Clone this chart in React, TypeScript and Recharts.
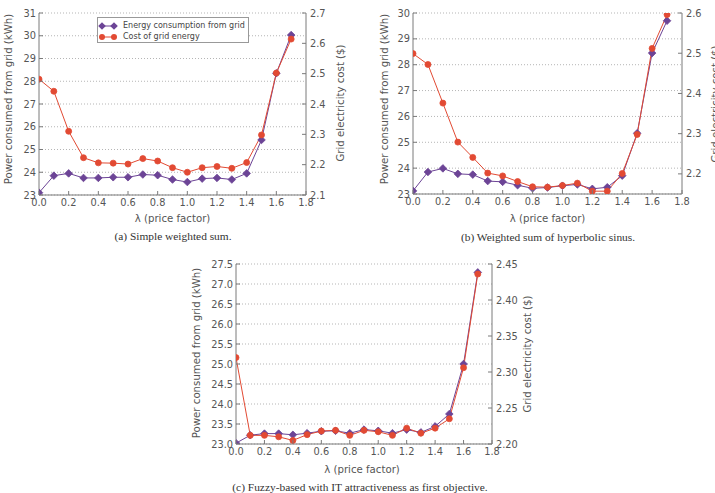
import React from "react";
import { CartesianGrid, Legend, Line, LineChart, XAxis, YAxis } from "recharts";

// λ values shared by all three panels
const lambdaValues = [0, 0.1, 0.2, 0.3, 0.4, 0.5, 0.6, 0.7, 0.8, 0.9, 1.0, 1.1, 1.2, 1.3, 1.4, 1.5, 1.6, 1.7];
const xTicks = [0, 0.2, 0.4, 0.6, 0.8, 1.0, 1.2, 1.4, 1.6, 1.8];

// (a) simple weighted sum
const energyA = [23.1, 23.85, 23.95, 23.75, 23.75, 23.78, 23.78, 23.9, 23.87, 23.68, 23.57, 23.72, 23.75, 23.68, 23.95, 25.42, 28.35, 30.03];
const costA = [2.482, 2.442, 2.31, 2.223, 2.206, 2.205, 2.202, 2.22, 2.212, 2.19, 2.175, 2.19, 2.194, 2.188, 2.207, 2.298, 2.502, 2.614];
const leftTicksA = [23, 24, 25, 26, 27, 28, 29, 30, 31];
const rightTicksA = [2.1, 2.2, 2.3, 2.4, 2.5, 2.6, 2.7];

// (b) weighted sum of hyperbolic sinus
const energyB = [23.12, 23.85, 23.99, 23.78, 23.75, 23.5, 23.47, 23.34, 23.22, 23.25, 23.32, 23.37, 23.2, 23.26, 23.71, 25.35, 28.45, 29.7];
const costB = [2.499, 2.472, 2.376, 2.279, 2.241, 2.202, 2.195, 2.181, 2.168, 2.167, 2.171, 2.177, 2.157, 2.157, 2.201, 2.298, 2.512, 2.596];
const leftTicksB = [23, 24, 25, 26, 27, 28, 29, 30];
const rightTicksB = [2.2, 2.3, 2.4, 2.5, 2.6];

// (c) fuzzy-based, IT attractiveness first
const energyC = [23.02, 23.22, 23.26, 23.26, 23.23, 23.27, 23.32, 23.33, 23.27, 23.36, 23.33, 23.27, 23.36, 23.29, 23.44, 23.75, 25.0, 27.29];
const costC = [2.32, 2.212, 2.212, 2.21, 2.205, 2.213, 2.218, 2.219, 2.212, 2.219, 2.217, 2.212, 2.222, 2.215, 2.222, 2.235, 2.306, 2.436];
const leftTicksC = [23.0, 23.5, 24.0, 24.5, 25.0, 25.5, 26.0, 26.5, 27.0, 27.5];
const rightTicksC = [2.2, 2.25, 2.3, 2.35, 2.4, 2.45];

const PURPLE = "#6c4496";
const RED = "#e24a33";
const FRAME = "#7a7a7a";
const TEXT = "#555";
const FONT = "'DejaVu Sans', sans-serif";
const CAPTION_FONT = "'Liberation Serif', 'DejaVu Serif', serif";

const tickText = { fontFamily: FONT, fontSize: 9.8, fill: TEXT };

function BottomTick(p: any) {
  return (
    <g>
      <line x1={p.x} x2={p.x} y1={p.y} y2={p.y - 4} stroke={FRAME} />
      <text x={p.x} y={p.y + 11} textAnchor="middle" {...tickText}>
        {Number(p.payload.value).toFixed(1)}
      </text>
    </g>
  );
}

function TopTick(p: any) {
  return <line x1={p.x} x2={p.x} y1={p.y} y2={p.y + 4} stroke={FRAME} />;
}

function makeLeftTick(digits: number) {
  return (p: any) => (
    <g>
      <line x1={p.x} x2={p.x + 4} y1={p.y} y2={p.y} stroke={FRAME} />
      <text x={p.x - 3} y={p.y + 3.5} textAnchor="end" {...tickText}>
        {Number(p.payload.value).toFixed(digits)}
      </text>
    </g>
  );
}

function makeRightTick(digits: number) {
  return (p: any) => (
    <g>
      <line x1={p.x} x2={p.x - 4} y1={p.y} y2={p.y} stroke={FRAME} />
      <text x={p.x + 4} y={p.y + 3.5} textAnchor="start" {...tickText}>
        {Number(p.payload.value).toFixed(digits)}
      </text>
    </g>
  );
}

function Diamond(p: any) {
  const s = 3.8;
  if (p.cx == null || p.cy == null) return null;
  return (
    <polygon
      key={p.key}
      points={`${p.cx},${p.cy - s} ${p.cx + s},${p.cy} ${p.cx},${p.cy + s} ${p.cx - s},${p.cy}`}
      fill={PURPLE}
      stroke={PURPLE}
      strokeWidth={0.8}
    />
  );
}

function Circle(p: any) {
  if (p.cx == null || p.cy == null) return null;
  return <circle key={p.key} cx={p.cx} cy={p.cy} r={3} fill={RED} stroke={RED} strokeWidth={0.8} />;
}

function LegendBox() {
  const row = (y: number, color: string, label: string, diamond: boolean) => (
    <div style={{ position: "absolute", left: 0, top: y - 6, height: 12, width: 150 }}>
      <svg width={22} height={12} style={{ position: "absolute", left: 0, top: 0 }}>
        <line x1={4} x2={16} y1={6} y2={6} stroke={color} />
        {diamond ? (
          <>
            <polygon points="4,2.2 7.8,6 4,9.8 0.2,6" fill={color} />
            <polygon points="16,2.2 19.8,6 16,9.8 12.2,6" fill={color} />
          </>
        ) : (
          <>
            <circle cx={4} cy={6} r={3} fill={color} />
            <circle cx={16} cy={6} r={3} fill={color} />
          </>
        )}
      </svg>
      <span
        style={{
          position: "absolute",
          left: 25,
          top: 0,
          lineHeight: "12px",
          fontFamily: FONT,
          fontSize: 8,
          color: "#444",
          whiteSpace: "nowrap",
        }}
      >
        {label}
      </span>
    </div>
  );
  return (
    <div
      style={{
        position: "relative",
        width: 150,
        height: 24,
        border: "1px solid #999",
        background: "#fff",
      }}
    >
      {row(7.5, PURPLE, "Energy consumption from grid", true)}
      {row(19, RED, "Cost of grid energy", false)}
    </div>
  );
}

type PanelProps = {
  energy: number[];
  cost: number[];
  leftTicks: number[];
  rightTicks: number[];
  rightDomain: [number, number];
  leftDigits: number;
  rightDigits: number;
  width: number;
  height: number;
  top: number;
  leftWidth: number;
  rightWidth: number;
  legend?: boolean;
};

function Panel(props: PanelProps) {
  const data = lambdaValues.map((l, i) => ({
    lambda: l,
    energy: props.energy[i],
    cost: props.cost[i],
  }));
  const leftDomain: [number, number] = [props.leftTicks[0], props.leftTicks[props.leftTicks.length - 1]];
  return (
    <LineChart
      width={props.width}
      height={props.height}
      data={data}
      margin={{ top: props.top, right: 0, bottom: 0, left: 0 }}
    >
      <CartesianGrid
        xAxisId="b"
        yAxisId="left"
        vertical={false}
        stroke="#b5b5b5"
        strokeDasharray="1 2"
      />
      <XAxis
        xAxisId="b"
        type="number"
        dataKey="lambda"
        domain={[0, 1.8]}
        ticks={xTicks}
        interval={0}
        tickSize={0}
        tickMargin={0}
        tickLine={false}
        axisLine={{ stroke: FRAME }}
        height={20}
        tick={(p: any) => <BottomTick {...p} />}
        allowDataOverflow
      />
      <XAxis
        xAxisId="t"
        orientation="top"
        type="number"
        dataKey="lambda"
        domain={[0, 1.8]}
        ticks={xTicks}
        interval={0}
        tickSize={0}
        tickMargin={0}
        tickLine={false}
        axisLine={{ stroke: FRAME }}
        height={0}
        tick={(p: any) => <TopTick {...p} />}
        allowDataOverflow
      />
      <YAxis
        yAxisId="left"
        type="number"
        domain={leftDomain}
        ticks={props.leftTicks}
        interval={0}
        tickSize={0}
        tickMargin={0}
        tickLine={false}
        axisLine={{ stroke: FRAME }}
        width={props.leftWidth}
        tick={makeLeftTick(props.leftDigits)}
        allowDataOverflow
      />
      <YAxis
        yAxisId="right"
        orientation="right"
        type="number"
        domain={props.rightDomain}
        ticks={props.rightTicks}
        interval={0}
        tickSize={0}
        tickMargin={0}
        tickLine={false}
        axisLine={{ stroke: FRAME }}
        width={props.rightWidth}
        tick={makeRightTick(props.rightDigits)}
        allowDataOverflow
      />
      <Line
        xAxisId="b"
        yAxisId="left"
        dataKey="energy"
        name="Energy consumption from grid"
        stroke={PURPLE}
        strokeWidth={1}
        dot={(p: any) => <Diamond {...p} />}
        activeDot={false}
        isAnimationActive={false}
      />
      <Line
        xAxisId="b"
        yAxisId="right"
        dataKey="cost"
        name="Cost of grid energy"
        stroke={RED}
        strokeWidth={1}
        dot={(p: any) => <Circle {...p} />}
        activeDot={false}
        isAnimationActive={false}
      />
      {props.legend && (
        <Legend
          layout="vertical"
          align="center"
          verticalAlign="middle"
          content={() => <LegendBox />}
          wrapperStyle={{ left: 97, top: 17, width: 152, height: 26 }}
        />
      )}
    </LineChart>
  );
}

function Title(p: { x: number; y: number; text: string; rotate?: boolean; serif?: boolean }) {
  return (
    <div
      style={{
        position: "absolute",
        left: p.x,
        top: p.y,
        transform: `translate(-50%, -50%)${p.rotate ? " rotate(-90deg)" : ""}`,
        whiteSpace: "nowrap",
        fontFamily: p.serif ? CAPTION_FONT : FONT,
        fontSize: p.serif ? 11.4 : 10.2,
        color: p.serif ? "#333" : TEXT,
        lineHeight: 1,
      }}
    >
      {p.text}
    </div>
  );
}

export default function App() {
  return (
    <div
      style={{
        position: "absolute",
        left: 0,
        top: 0,
        width: 715,
        height: 493,
        overflow: "hidden",
        background: "#fff",
      }}
    >
      <div style={{ position: "absolute", left: 0, top: 0 }}>
        <Panel
          energy={energyA}
          cost={costA}
          leftTicks={leftTicksA}
          rightTicks={rightTicksA}
          rightDomain={[2.1, 2.7]}
          leftDigits={0}
          rightDigits={1}
          width={360}
          height={215}
          top={13}
          leftWidth={39}
          rightWidth={54}
          legend
        />
      </div>
      <div style={{ position: "absolute", left: 360, top: 0 }}>
        <Panel
          energy={energyB}
          cost={costB}
          leftTicks={leftTicksB}
          rightTicks={rightTicksB}
          rightDomain={[2.15, 2.6]}
          leftDigits={0}
          rightDigits={1}
          width={360}
          height={214}
          top={13}
          leftWidth={53}
          rightWidth={38}
        />
      </div>
      <div style={{ position: "absolute", left: 180, top: 245 }}>
        <Panel
          energy={energyC}
          cost={costC}
          leftTicks={leftTicksC}
          rightTicks={rightTicksC}
          rightDomain={[2.2, 2.45]}
          leftDigits={1}
          rightDigits={2}
          width={360}
          height={219}
          top={19}
          leftWidth={56}
          rightWidth={48}
        />
      </div>

      <Title x={9} y={99} text="Power consumed from grid (kWh)" rotate />
      <Title x={340.5} y={103} text="Grid electricity cost ($)" rotate />
      <Title x={172.5} y={219} text="λ (price factor)" />
      <Title x={173} y={237} text="(a) Simple weighted sum." serif />

      <Title x={384.5} y={99} text="Power consumed from grid (kWh)" rotate />
      <Title x={716} y={104} text="Grid electricity cost ($)" rotate />
      <Title x={547.5} y={219} text="λ (price factor)" />
      <Title x={548} y={238} text="(b) Weighted sum of hyperbolic sinus." serif />

      <Title x={196.7} y={353} text="Power consumed from grid (kWh)" rotate />
      <Title x={527.5} y={354} text="Grid electricity cost ($)" rotate />
      <Title x={362} y={470} text="λ (price factor)" />
      <Title x={360} y={488} text="(c) Fuzzy-based with IT attractiveness as first objective." serif />
    </div>
  );
}
